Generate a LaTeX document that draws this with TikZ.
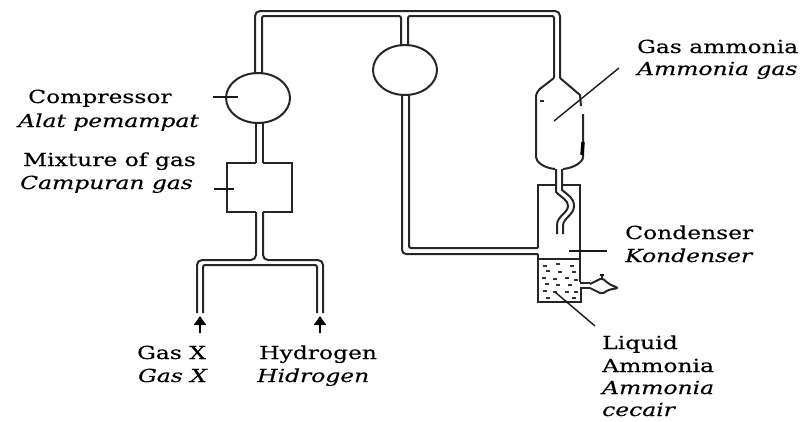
\documentclass[tikz,border=0pt]{standalone}
\usepackage{fontspec}
\setmainfont[FakeStretch=1.3,FakeBold=0.3]{DejaVu Serif}
\usetikzlibrary{arrows.meta}
\tikzset{
    pipe/.style={line width=2pt, black!85},
    leader/.style={line width=1.4pt, black!90},
    label/.style={anchor=base west, inner sep=0pt, font=\fontsize{18}{20}\selectfont},
    labelit/.style={label, font=\fontsize{18}{20}\selectfont\itshape},
    gasarrow/.style={-{Triangle[length=9pt,width=12pt]}, line width=2.6pt, black}
}
\begin{document}
\begin{tikzpicture}[x=1pt,y=-1pt]
    \useasboundingbox (0,0) rectangle (809,421);

    % tubo superiore
    \draw[pipe, rounded corners=5pt] (255,74) -- (255,11) -- (560,11) -- (560,78);
    \draw[pipe, rounded corners=2pt] (262,74) -- (262,16) -- (401,16) -- (401,46);
    \draw[pipe, rounded corners=2pt] (408,46) -- (408,16) -- (554,16) -- (554,78);

    % compressore e pallone centrale
    \draw[pipe] (258,98) ellipse (32 and 25);
    \draw[pipe] (405,70) ellipse (32 and 25);

    % tubo tra compressore e miscela
    \draw[pipe] (256,123) -- (256,163);
    \draw[pipe] (263,123) -- (263,163);

    % scatola della miscela
    \draw[pipe] (256,163) -- (227,163) -- (227,212) -- (256,212);
    \draw[pipe] (263,163) -- (292,163) -- (292,212) -- (263,212);

    % ramificazione in basso
    \draw[pipe, rounded corners=5pt] (256,212) -- (256,260) -- (197,260) -- (197,313);
    \draw[pipe, rounded corners=5pt] (263,212) -- (263,260) -- (323,260) -- (323,313);
    \draw[pipe, rounded corners=2pt] (203,313) -- (203,265) -- (317,265) -- (317,313);

    % frecce
    \coordinate (arrowXa) at (200,333);
    \coordinate (arrowXb) at (200,316);
    \coordinate (arrowHa) at (320,333);
    \coordinate (arrowHb) at (320,316);
    \draw[gasarrow] (arrowXa) -- (arrowXb);
    \draw[gasarrow] (arrowHa) -- (arrowHb);

    % tubo di ritorno
    \draw[pipe, rounded corners=4pt] (402,95) -- (402,254) -- (538,254);
    \draw[pipe, rounded corners=2pt] (409,95) -- (409,248) -- (538,248);

    % recipiente del gas
    \draw[pipe, rounded corners=5pt] (554,78) -- (536,92) -- (536,152)
        .. controls (536,162) and (544,168) .. (555,169);
    \draw[pipe, rounded corners=5pt] (563,169)
        .. controls (574,168) and (583,162) .. (583,152) -- (583,114);
    \draw[pipe] (560,78) -- (580,95) -- (581,106);
    \draw[line width=3.5pt] (583,142) -- (582,155);
    \draw[pipe] (540,101) -- (544,101);

    % condensatore
    \draw[pipe] (555,185) -- (538,185) -- (538,248);
    \draw[pipe] (538,254) -- (538,302) -- (581,302) -- (581,288);
    \draw[pipe] (562,185) -- (580,185) -- (580,282);
    \draw[pipe] (538,259) -- (580,259);

    % tubo a serpentina
    \draw[pipe] (556,169) -- (556,192) .. controls (562,198) and (568,200) .. (568,206)
        .. controls (568,213) and (557,216) .. (557,225) -- (557,234);
    \draw[pipe] (562,169) -- (562,190) .. controls (568,195) and (574,198) .. (574,206)
        .. controls (574,215) and (563,218) .. (563,226) -- (563,234);

    % liquido
    \foreach \xa/\ya in {543/266,556/264,570/266,546/271,558/272,572/272,542/278,
                         553/279,565/278,574/280,545/284,556/285,568/285,543/291,
                         553/292,565/292,574/292,546/298,572/298}
        \draw[line width=1.2pt, black!80] (\xa,\ya) -- (\xa+4,\ya);

    % rubinetto
    \draw[pipe] (580,283) -- (590,283);
    \draw[pipe] (580,288) -- (590,288);
    \draw[pipe, rounded corners=2pt] (590,284) -- (602,278) -- (609,284) -- (618,288)
        -- (608,290) -- (602,294) -- (590,288);
    \draw[line width=2.5pt] (600,275) -- (604,275);
    \draw[pipe] (602,275) -- (602,278);

    % etichette
    \node[label] (compressor) at (28,103) {Compressor};
    \node[labelit] (alat) at (18,127) {Alat pemampat};
    \node[label] (mixture) at (23,166) {Mixture of gas};
    \node[labelit] (campuran) at (20,189) {Campuran gas};
    \node[label] (gasx) at (137,359) {Gas X};
    \node[labelit] (gasxit) at (138,382) {Gas X};
    \node[label] (hydrogen) at (259,359) {Hydrogen};
    \node[labelit] (hidrogen) at (257,382) {Hidrogen};
    \node[label] (gasammonia) at (637,53) {Gas ammonia};
    \node[labelit] (ammoniagas) at (637,75) {Ammonia gas};
    \node[label] (condenser) at (625,239) {Condenser};
    \node[labelit] (kondenser) at (625,262) {Kondenser};
    \node[label] (liquid) at (602,349) {Liquid};
    \node[label] (ammonia) at (602,372) {Ammonia};
    \node[labelit] (ammoniait) at (602,394) {Ammonia};
    \node[labelit] (cecair) at (602,416) {cecair};

    % linee di richiamo
    \coordinate (leadCa) at (213,97);
    \coordinate (leadCb) at (238,97);
    \coordinate (leadMa) at (214,189);
    \coordinate (leadMb) at (234,189);
    \coordinate (leadGa) at (619,68);
    \coordinate (leadGb) at (554,121);
    \coordinate (leadKa) at (607,251);
    \coordinate (leadKb) at (569,251);
    \coordinate (leadLa) at (595,326);
    \coordinate (leadLb) at (555,292);
    \draw[leader] (leadCa) -- (leadCb);
    \draw[leader] (leadMa) -- (leadMb);
    \draw[leader] (leadGa) -- (leadGb);
    \draw[leader] (leadKa) -- (leadKb);
    \draw[leader] (leadLa) -- (leadLb);
\end{tikzpicture}
\end{document}
